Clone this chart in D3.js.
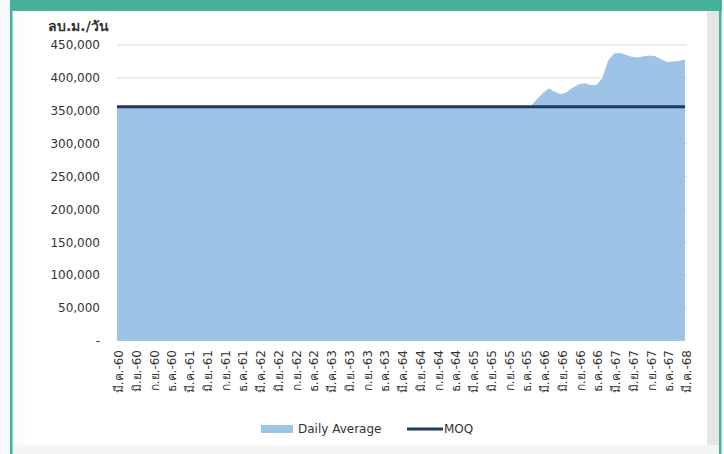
<!DOCTYPE html>
<html><head><meta charset="utf-8">
<script src="https://cdn.jsdelivr.net/npm/d3@7"></script>
<style>
html,body{margin:0;padding:0;background:#f7f9fa;}
svg{display:block;}
text{font-family:"DejaVu Sans","Noto Sans",sans-serif;}
</style></head>
<body>
<svg id="c" width="724" height="454"></svg>
<script>
// ---- data ----
const thaiMonths = ["มี.ค.", "มิ.ย.", "ก.ย.", "ธ.ค."];
const years = ["60","61","62","63","64","65","66","67","68"];
const tickLabels = [];
years.forEach(y => thaiMonths.forEach(m => tickLabels.push(m + "-" + y)));
tickLabels.length = 33; // มี.ค.-60 ... มี.ค.-68
const yTicks = [0, 50000, 100000, 150000, 200000, 250000, 300000, 350000, 400000, 450000];
const moq = 356000;
// monthly daily-average values, month 0 = มี.ค.-60 ... month 96 = มี.ค.-68
const dailyAverage = [
 356000,356000,356000,356000,356000,356000,356000,356000,356000,356000,
 356000,356000,356000,356000,356000,356000,356000,356000,356000,356000,
 356000,356000,356000,356000,356000,356000,356000,356000,356000,356000,
 356000,356000,356000,356000,356000,356000,356000,356000,356000,356000,
 356000,356000,356000,356000,356000,356000,356000,356000,356000,356000,
 356000,356000,356000,356000,356000,356000,356000,356000,356000,356000,
 356000,356000,356000,356000,356000,356000,356000,356000,356000,356000,
 358000,368000,377000,384000,379000,375000,378000,385000,390000,392000,
 389000,389000,399000,426000,437000,438000,435000,432000,431000,433000,
 434000,433000,428000,424000,425000,426000,428000
];

const svg = d3.select("#c");
// frame
svg.append("rect").attr("x",0).attr("y",0).attr("width",724).attr("height",454).attr("fill","#f7f9fa");
svg.append("rect").attr("x",12).attr("y",11).attr("width",707).attr("height",443).attr("fill","#f4f5f5");
svg.append("rect").attr("x",12).attr("y",11).attr("width",13).attr("height",434).attr("fill","#fafbfb");
svg.append("rect").attr("x",25).attr("y",11).attr("width",682).attr("height",434).attr("fill","#ffffff");
svg.append("rect").attr("x",707).attr("y",11).attr("width",12).attr("height",434).attr("fill","#e6e6e6");
svg.append("rect").attr("x",10).attr("y",0).attr("width",712).attr("height",11).attr("fill","#45b09b");
svg.append("rect").attr("x",10).attr("y",0).attr("width",2.5).attr("height",454).attr("fill","#45b09b");
svg.append("rect").attr("x",719).attr("y",0).attr("width",2.5).attr("height",454).attr("fill","#45b09b");

const x = d3.scaleLinear().domain([0, 96]).range([117, 685]);
const y = d3.scaleLinear().domain([0, 450000]).range([341, 45]);

// gridlines
svg.append("g").selectAll("line").data(yTicks.filter(d => d > 0)).join("line")
  .attr("x1", 117).attr("x2", 687)
  .attr("y1", d => y(d)).attr("y2", d => y(d))
  .attr("stroke", "#d9d9d9").attr("stroke-width", 1);

// area
const area = d3.area().x((d, i) => x(i)).y0(y(0)).y1(d => y(d));
svg.append("path").datum(dailyAverage).attr("d", area).attr("fill", "#9dc3e6");

// MOQ line
const line = d3.line().x(d => x(d)).y(() => y(moq));
svg.append("path").datum([0, 96]).attr("d", line)
  .attr("stroke", "#1f3864").attr("stroke-width", 3).attr("fill", "none");

// y axis labels
const fmt = d3.format(",");
svg.append("g").selectAll("text").data(yTicks).join("text")
  .attr("x", 100).attr("y", d => y(d)).attr("dy", "0.35em")
  .attr("text-anchor", "end").attr("font-size", 12).attr("fill", "#333333")
  .text(d => d === 0 ? "-" : fmt(d));

// y title
svg.append("text").attr("x", 48).attr("y", 31).attr("font-size", 14).attr("font-weight", "bold")
  .attr("fill", "#333333").text("ลบ.ม./วัน");

// x labels
svg.append("g").selectAll("text").data(tickLabels).join("text")
  .attr("transform", (d, i) => `translate(${x(i * 3) + 2},350) rotate(-90)`)
  .attr("text-anchor", "end").attr("dy", "0.35em")
  .attr("font-size", 12).attr("fill", "#333333")
  .text(d => d);

// legend
const lg = svg.append("g");
lg.append("rect").attr("x", 261).attr("y", 425).attr("width", 32).attr("height", 8).attr("fill", "#9dc3e6");
lg.append("text").attr("x", 298).attr("y", 429).attr("dy", "0.35em").attr("font-size", 12).attr("fill", "#333333").text("Daily Average");
lg.append("line").attr("x1", 407).attr("x2", 443).attr("y1", 429).attr("y2", 429).attr("stroke", "#1f3864").attr("stroke-width", 3);
lg.append("text").attr("x", 444).attr("y", 429).attr("dy", "0.35em").attr("font-size", 12).attr("fill", "#333333").text("MOQ");
</script>
</body></html>
